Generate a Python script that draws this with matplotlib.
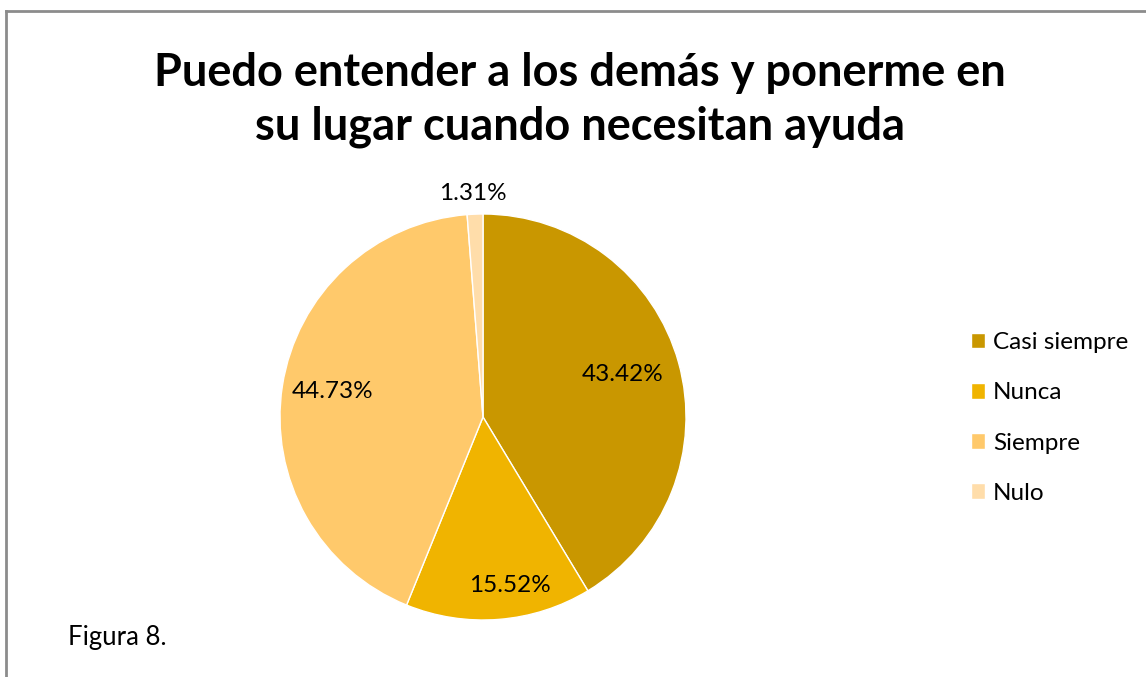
import matplotlib
matplotlib.use('Agg')
import matplotlib.pyplot as plt
from matplotlib.lines import Line2D

# data
labels = ['Casi siempre', 'Nunca', 'Siempre', 'Nulo']
values = [43.42, 15.52, 44.73, 1.31]
pct_text = ['43.42%', '15.52%', '44.73%', '1.31%']
colors = ['#C99700', '#F0B400', '#FFC96B', '#FFDDAA']

title = 'Puedo entender a los demás y ponerme en\nsu lugar cuando necesitan ayuda'

plt.rcParams['font.family'] = ['Lato', 'DejaVu Sans']

W, H = 1146, 677
fig = plt.figure(figsize=(W / 100, H / 100), dpi=100)

# pie axes: centre (483, 417), radius ~203 px
cx, cy, r = 483, 417, 203
ax = fig.add_axes([(cx - r) / W, (H - cy - r) / H, 2 * r / W, 2 * r / H])
wedges, _ = ax.pie(values, colors=colors, startangle=90, counterclock=False,
                   radius=1.0, wedgeprops=dict(linewidth=1, edgecolor='white'))
ax.set_xlim(-1, 1)
ax.set_ylim(-1, 1)
ax.set_aspect('equal')
ax.axis('off')

# percentage labels
lab_pos = [(0.69, 0.21), (0.133, -0.828), (-0.74, 0.128), (-0.049, 1.10)]
for (x, y), t in zip(lab_pos, pct_text):
    ax.text(x, y, t, ha='center', va='center', fontsize=17.5, color='black')

# title
fig.text(580 / W, 1 - 100 / H, title, ha='center', va='center',
         fontsize=32.5, fontweight='bold', linespacing=1.32)

# legend
leg = fig.legend(wedges, labels, loc='center left',
                 bbox_to_anchor=(949 / W, 1 - 418 / H),
                 frameon=False, fontsize=17.5, handlelength=0.6,
                 handleheight=0.6, handletextpad=0.3, labelspacing=1.2)

fig.text(68 / W, 1 - 637 / H, 'Figura 8.', fontsize=18.5, va='center')

# grey border
fig.add_artist(Line2D([5.5 / W, 5.5 / W], [0, 1 - 10.5 / H], color='#8c8c8c', lw=2))
fig.add_artist(Line2D([5.5 / W, 1], [1 - 10.5 / H, 1 - 10.5 / H], color='#8c8c8c', lw=2))

plt.savefig('out.png', dpi=100)
